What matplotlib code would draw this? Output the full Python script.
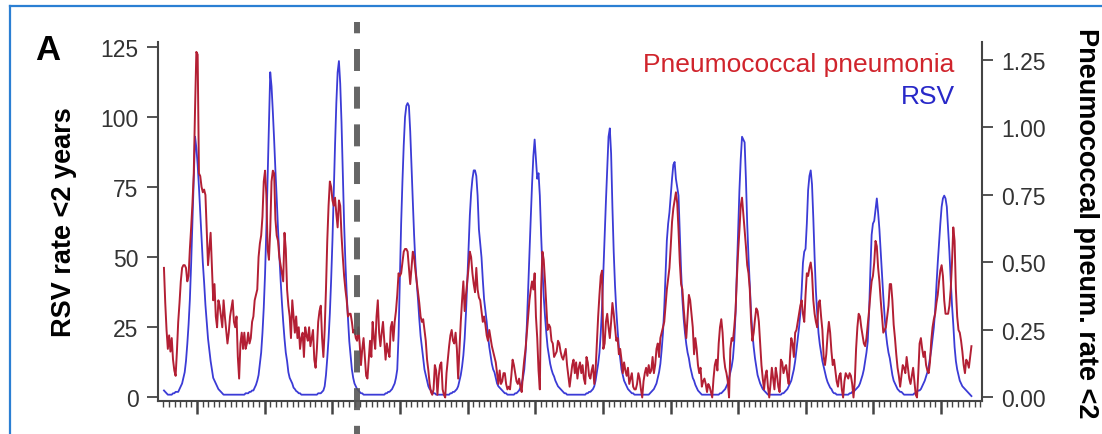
import pandas as pd
import matplotlib
matplotlib.use('Agg')
import matplotlib.pyplot as plt
import matplotlib.dates as mdates
import matplotlib.transforms as mtransforms
from matplotlib.lines import Line2D

plt.rcParams['font.family'] = ['Liberation Sans', 'DejaVu Sans']

# weekly RSV rate (<2 years), one list per July-June season
rsv_97_98 = [2.5, 2, 1.5, 1, 1, 1, 1, 1.5, 1.5, 2, 2, 2, 3, 4, 5, 7, 9, 13, 19, 26, 35, 48, 63, 79, 93, 89,
             83, 75, 66, 57, 48, 41, 33, 27, 21, 17, 13, 10, 7, 6, 5, 4, 3, 2.5, 2, 1.5, 1, 1, 1, 1, 1, 1]
rsv_98_99 = [1, 1, 1, 1, 1, 1, 1, 1, 1, 1, 1, 1.5, 1.5, 1.5, 2, 2, 2.5, 2.5, 3.5, 4.5, 6, 8, 12, 16, 23, 32,
             44, 60, 79, 99, 116, 111, 102, 92, 81, 71, 60, 51, 42, 34, 27, 21, 16, 13, 9, 7, 6, 5, 3.5, 3, 2.3, 2]
rsv_99_00 = [1.5, 1.5, 1, 1, 1, 1, 1, 1, 1, 1, 1, 1, 1, 1, 1, 1.5, 1.5, 1.5, 2, 2.5, 4, 8, 14, 21, 30, 42,
             56, 73, 90, 105, 116, 120, 112, 98, 80, 62, 48, 37, 28, 20, 15, 10, 7, 5, 4, 3, 2.5, 2, 1.5, 1.5, 1, 1]
rsv_00_01 = [1, 1, 1, 1, 1, 1, 1, 1, 1, 1, 1, 1, 1, 1, 1, 1.5, 1.5, 2, 2, 2.5, 3, 4, 5, 7, 10, 22,
             42, 62, 77, 90, 100, 104, 105, 104, 95, 82, 70, 58, 48, 41, 35, 28, 22, 18, 14, 10, 8, 6, 4, 3, 2.5, 2]
rsv_01_02 = [1.5, 1.5, 1, 1, 1, 1, 1, 1, 1, 1, 1, 1, 1, 1.5, 1.5, 2, 2, 2.5, 3, 4, 6, 8, 11, 15, 21, 30,
             41, 53, 65, 73, 78, 81, 81, 79, 72, 60, 55, 50, 42, 35, 31, 27, 22, 18, 15, 12, 10, 9, 7, 5, 4, 3.5]
rsv_02_03 = [3, 2.5, 2, 1.5, 1.5, 1, 1, 1, 1, 1, 1, 1.5, 1.5, 2, 2.5, 3.5, 5, 7, 10, 16, 26, 39, 52, 64, 76, 86,
             92, 85, 78, 80, 72, 58, 46, 36, 29, 23, 18, 15, 12, 10, 8.5, 7.5, 6, 5, 4, 3.5, 3, 2.5, 2, 1.5, 1.5, 1]
rsv_03_04 = [1, 1, 1, 1, 1, 1, 1, 1, 1, 1, 1, 1, 1, 1, 1.5, 1.5, 2, 2, 2.5, 3, 4, 6, 9, 12, 16, 23,
             32, 45, 58, 70, 82, 93, 96, 87, 68, 52, 40, 31, 24, 18, 14, 10, 8, 6, 5, 4, 3, 2.5, 2, 1.5, 1.5, 1]
rsv_04_05 = [1, 1, 1, 1, 1, 1, 1, 1, 1, 1, 1, 1.5, 2, 2.5, 3, 4, 5, 7, 9, 12, 17, 23, 32, 44, 56, 62,
             66, 72, 78, 83, 84, 78, 75, 72, 58, 45, 35, 28, 23, 19, 16, 14, 11, 9, 7, 6, 4.5, 3.5, 2.5, 2, 1.5, 1]
rsv_05_06 = [1, 1, 1, 1, 1, 1, 1, 1, 1, 1, 1, 1, 1, 1.5, 1.5, 2, 2.5, 3, 4, 5, 7, 9, 11, 14, 20, 30,
             45, 60, 74, 85, 93, 92, 91, 78, 62, 50, 40, 30, 23, 18, 14, 11, 8, 6.5, 5, 4, 3, 2.5, 2, 1.5, 1, 1]
rsv_06_07 = [1, 1, 1, 1, 1, 1, 1, 1, 1, 1.5, 1.5, 2, 2.5, 3, 4, 5, 6, 8, 10, 13, 17, 21, 25, 30, 38, 48,
             52, 53, 62, 74, 79, 81, 76, 64, 50, 38, 30, 23, 19, 16, 13, 11, 9, 7, 5.5, 4.5, 3.5, 3, 2, 1.5, 1.5, 1]
rsv_07_08 = [1, 1, 1, 1, 1, 1, 1, 1, 1, 1.5, 1.5, 2, 2, 2.5, 3, 3.5, 4, 5, 6.5, 8, 10, 13, 16, 20, 30, 45,
             58, 62, 63, 67, 71, 66, 60, 52, 44, 36, 29, 23, 19, 16, 14, 11, 8, 6, 5, 4, 3, 2.5, 2, 2, 1.5, 1]
rsv_08_09 = [1, 1, 1, 1, 1, 1, 1, 1.5, 1.5, 2, 2.5, 2.5, 3, 4, 5, 6, 7.5, 9, 11, 14, 17, 21, 25, 31, 40, 48,
             55, 62, 68, 71, 72, 71, 68, 60, 52, 42, 33, 26, 18, 13, 10, 8, 6, 5, 4, 3.5, 3, 2.5, 2, 1.5, 1, 0.5]

# weekly pneumococcal pneumonia rate (<2 years), in hundredths
pn_97_98 = [48, 35, 25, 18, 23, 17, 22, 14, 10, 8, 17, 28, 35, 43, 48, 49, 49, 48, 43, 45, 55, 63, 72, 83, 107, 128,
            127, 83, 82, 78, 76, 77, 75, 62, 49, 55, 61, 49, 36, 42, 30, 26, 36, 34, 30, 26, 36, 30, 25, 20, 24, 30]
pn_98_99 = [33, 36, 28, 26, 30, 15, 7, 20, 24, 18, 24, 18, 20, 24, 20, 22, 28, 30, 36, 38, 40, 52, 57, 60, 67, 80,
            84, 75, 55, 51, 62, 80, 84, 83, 66, 60, 58, 52, 49, 46, 43, 61, 55, 40, 34, 30, 22, 36, 30, 24, 30, 22]
pn_99_00 = [26, 18, 22, 24, 15, 26, 23, 21, 26, 19, 22, 25, 14, 11, 18, 28, 32, 34, 22, 15, 25, 40, 58, 71, 80, 78,
            73, 71, 74, 68, 63, 73, 71, 60, 52, 45, 40, 36, 30, 31, 31, 28, 24, 25, 22, 21, 26, 20, 12, 18, 22, 15]
pn_00_01 = [8, 7, 14, 21, 15, 28, 22, 18, 30, 36, 24, 19, 24, 28, 21, 14, 20, 17, 15, 26, 28, 21, 28, 32, 38, 46,
            45, 46, 50, 54, 55, 55, 54, 48, 42, 48, 54, 52, 47, 43, 39, 35, 30, 28, 29, 25, 21, 14, 10, 5, 2, 1]
pn_01_02 = [3, 12, 10, 1, 8, 12, 13, 3, 1, 0, 9, 14, 19, 23, 25, 21, 20, 24, 18, 7, 18, 28, 36, 43, 32, 38,
            43, 48, 54, 52, 46, 42, 39, 48, 40, 37, 36, 32, 28, 30, 27, 23, 21, 25, 22, 19, 17, 15, 13, 9, 5, 10]
pn_02_03 = [5, 6, 9, 9, 5, 3, 4, 3, 8, 14, 12, 9, 6, 5, 7, 4, 2, 9, 14, 18, 24, 30, 36, 40, 43, 40,
            46, 30, 22, 10, 3, 40, 54, 51, 43, 34, 25, 27, 26, 21, 20, 15, 16, 17, 21, 20, 17, 15, 14, 16, 18, 12]
pn_03_04 = [8, 4, 8, 12, 14, 9, 13, 7, 11, 13, 9, 12, 7, 5, 15, 13, 8, 7, 10, 12, 5, 10, 20, 30, 38, 45,
            47, 18, 20, 28, 31, 26, 22, 28, 35, 31, 26, 21, 22, 16, 18, 14, 9, 13, 10, 8, 11, 5, 7, 9, 4, 3]
pn_04_05 = [3, 5, 9, 7, 3, 0, 6, 9, 11, 8, 12, 9, 10, 15, 9, 12, 18, 20, 15, 22, 24, 26, 28, 34, 40, 44,
            48, 56, 65, 70, 73, 76, 72, 62, 50, 42, 40, 33, 27, 22, 30, 38, 36, 31, 26, 16, 22, 18, 12, 9, 11, 4]
pn_05_06 = [6, 7, 5, 2, 5, 4, 2, 0, 7, 12, 14, 10, 20, 26, 29, 24, 15, 11, 9, 6, 0, 18, 22, 21, 26, 32,
            44, 54, 62, 71, 74, 68, 62, 56, 49, 46, 40, 28, 21, 24, 29, 33, 32, 28, 20, 12, 7, 3, 8, 10, 4, 0]
pn_06_07 = [5, 11, 7, 3, 11, 8, 4, 2, 14, 13, 9, 11, 12, 8, 5, 15, 22, 20, 15, 24, 25, 28, 31, 34, 36, 31,
            28, 38, 46, 45, 48, 50, 46, 36, 31, 28, 26, 35, 36, 30, 25, 15, 12, 16, 23, 28, 24, 17, 12, 14, 10, 6]
pn_07_08 = [4, 8, 9, 3, 0, 6, 9, 8, 7, 9, 8, 5, 0, 6, 18, 26, 31, 30, 26, 23, 20, 19, 22, 27, 32, 38,
            43, 45, 50, 58, 56, 48, 43, 36, 30, 24, 25, 26, 30, 34, 42, 42, 36, 27, 22, 16, 11, 8, 4, 8, 12, 11]
pn_08_09 = [9, 15, 11, 7, 5, 8, 11, 6, 1, 0, 9, 20, 22, 18, 15, 17, 12, 10, 9, 13, 21, 26, 29, 31, 35, 38,
            43, 47, 49, 45, 36, 31, 31, 31, 34, 40, 50, 63, 58, 40, 30, 25, 24, 21, 17, 12, 9, 14, 13, 11, 15, 19]

rsv = (rsv_97_98 + rsv_98_99 + rsv_99_00 + rsv_00_01 + rsv_01_02 + rsv_02_03 +
       rsv_03_04 + rsv_04_05 + rsv_05_06 + rsv_06_07 + rsv_07_08 + rsv_08_09)
pneumo = [v / 100 for v in (pn_97_98 + pn_98_99 + pn_99_00 + pn_00_01 + pn_01_02 + pn_02_03 +
                            pn_03_04 + pn_04_05 + pn_05_06 + pn_06_07 + pn_07_08 + pn_08_09)]
weeks = pd.date_range('1997-07-06', periods=len(rsv), freq='7D')
vaccine_date = pd.Timestamp('2000-05-14')

fig = plt.figure(figsize=(11.02, 4.35), dpi=100)
ax = fig.add_axes([0.1434, 0.0759, 0.7477, 0.8253])
ax2 = ax.twinx()

ax.plot(weeks, rsv, color='#3b3bd6', lw=1.3)
ax2.plot(weeks, pneumo, color='#b31f34', lw=1.4)

ax.set_xlim(pd.Timestamp('1997-06-04'), pd.Timestamp('2009-08-10'))
ax.set_ylim(-1.25, 126.8)
ax2.set_ylim(-0.013, 1.3167)
ax.set_yticks([0, 25, 50, 75, 100, 125])
ax2.set_yticks([0, 0.25, 0.5, 0.75, 1.0, 1.25])
ax2.set_yticklabels([f'{t:.2f}' for t in [0, 0.25, 0.5, 0.75, 1.0, 1.25]])

ax.xaxis.set_major_locator(mdates.YearLocator())
ax.xaxis.set_minor_locator(mdates.MonthLocator())

spine_col = '#444444'
ax.spines['top'].set_visible(False)
ax.spines['right'].set_visible(False)
ax2.spines['top'].set_visible(False)
ax2.spines['left'].set_visible(False)
ax2.spines['bottom'].set_visible(False)
for sp in ['left', 'bottom']:
    ax.spines[sp].set_color(spine_col)
    ax.spines[sp].set_linewidth(1.5)
ax2.spines['right'].set_color(spine_col)
ax2.spines['right'].set_linewidth(1.5)

ax.tick_params(axis='y', length=8, width=1.3, color=spine_col, labelsize=16.5, labelcolor='#333333', pad=6)
ax2.tick_params(axis='y', length=8, width=1.3, color=spine_col, labelsize=16.5, labelcolor='#333333', pad=6)
ax.tick_params(axis='x', which='major', length=9, width=1.8, color=spine_col, labelbottom=False)
ax.tick_params(axis='x', which='minor', length=4.5, width=1.0, color=spine_col)

# PCV7 introduction marker, running past the axes
trans = mtransforms.blended_transform_factory(ax.transData, ax.transAxes)
ax2.plot([vaccine_date, vaccine_date], [1.0557, -0.2], transform=trans, color='#555555', alpha=0.9,
         lw=4.3, linestyle=(1.79, (3.68, 2.63)), clip_on=False, zorder=5)

ax2.text(0.967, 0.9387, 'Pneumococcal pneumonia', transform=ax.transAxes, ha='right', va='center',
         color='#d0242c', fontsize=19)
ax2.text(0.967, 0.8496, 'RSV', transform=ax.transAxes, ha='right', va='center',
         color='#2828c8', fontsize=19)

fig.text(64 / 1102, 1 - 222 / 435, 'RSV rate <2 years', rotation=90, ha='center', va='center',
         fontsize=19.5, fontweight='bold')
fig.text(1086 / 1102, 1 - 28 / 435, 'Pneumococcal pneum. rate <2', rotation=270, ha='center', va='top',
         fontsize=19.5, fontweight='bold')
fig.text(35 / 1102, 1 - 50 / 435, 'A', ha='left', va='center', fontsize=25, fontweight='bold')

# panel frame (only top and left edges are visible in the crop)
frame_col = '#2b7fd3'
fig.add_artist(Line2D([10 / 1102, 1], [1 - 7 / 435, 1 - 7 / 435], transform=fig.transFigure,
                      color=frame_col, lw=1.6))
fig.add_artist(Line2D([10 / 1102, 10 / 1102], [0, 1 - 7 / 435], transform=fig.transFigure,
                      color=frame_col, lw=1.6))

fig.savefig('out.png', dpi=100)
